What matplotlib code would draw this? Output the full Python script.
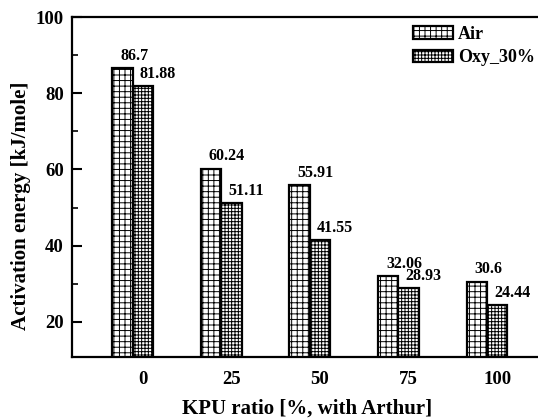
import matplotlib
matplotlib.use("Agg")
import matplotlib.pyplot as plt
import numpy as np

categories = ["0", "25", "50", "75", "100"]
air = [86.7, 60.24, 55.91, 32.06, 30.6]
oxy = [81.88, 51.11, 41.55, 28.93, 24.44]
air_labels = ["86.7", "60.24", "55.91", "32.06", "30.6"]
oxy_labels = ["81.88", "51.11", "41.55", "28.93", "24.44"]

plt.rcParams['font.family'] = ['Liberation Serif', 'DejaVu Serif']
plt.rcParams['font.weight'] = 'bold'
plt.rcParams['hatch.linewidth'] = 0.7

W, H = 538, 420
fig = plt.figure(figsize=(W / 100, H / 100), dpi=100)
ax = fig.add_axes([72 / W, 1 - 357 / H, (568 - 72) / W, (357 - 17) / H])

x = np.arange(len(categories))
w = 0.23
b1 = ax.bar(x - w, air, width=w, facecolor='white', edgecolor='black',
            linewidth=1.6, hatch='+++', label='Air')
b2 = ax.bar(x, oxy, width=w, facecolor='white', edgecolor='black',
            linewidth=1.6, hatch='+++++', label='Oxy_30%')

for xi, v, s in zip(x - w, air, air_labels):
    ax.annotate(s, (xi, v), xytext=(-1.5, 5.8), textcoords='offset points',
                ha='left', va='baseline', fontsize=11.5, fontweight='bold')
for xi, v, s in zip(x, oxy, oxy_labels):
    ax.annotate(s, (xi, v), xytext=(-2.2, 5.8), textcoords='offset points',
                ha='left', va='baseline', fontsize=11.5, fontweight='bold')

ax.set_xlim(-0.8, 4.8)
ax.set_ylim(10.8, 100)
ax.set_xticks(x)
ax.set_xticklabels(categories)
ax.set_yticks([20, 40, 60, 80, 100])
ax.set_yticks([30, 50, 70, 90], minor=True)
ax.tick_params(axis='y', which='major', direction='in', length=7, width=1.5,
               labelsize=13.5, pad=6)
ax.tick_params(axis='y', which='minor', direction='in', length=4, width=1.2)
ax.tick_params(axis='x', which='both', length=0, labelsize=13.5, pad=10)
for lab in ax.get_xticklabels() + ax.get_yticklabels():
    lab.set_fontweight('bold')
for sp in ax.spines.values():
    sp.set_linewidth(1.6)

fig.text(307 / W, 1 - 409 / H, 'KPU ratio [%, with Arthur]', fontsize=15,
         fontweight='bold', ha='center', va='center')
fig.text(21 / W, 1 - 206 / H, 'Activation energy [kJ/mole]', rotation=90,
         fontsize=15, fontweight='bold', ha='center', va='center')

leg = ax.legend(loc='upper left', bbox_to_anchor=(413 / W, 1 - 26 / H),
                bbox_transform=fig.transFigure, frameon=False, fontsize=13,
                handlelength=2.2, handleheight=0.7, handletextpad=0.3,
                labelspacing=0.35, borderpad=0, borderaxespad=0)
for t in leg.get_texts():
    t.set_fontweight('bold')

fig.savefig('out.png', dpi=100)
